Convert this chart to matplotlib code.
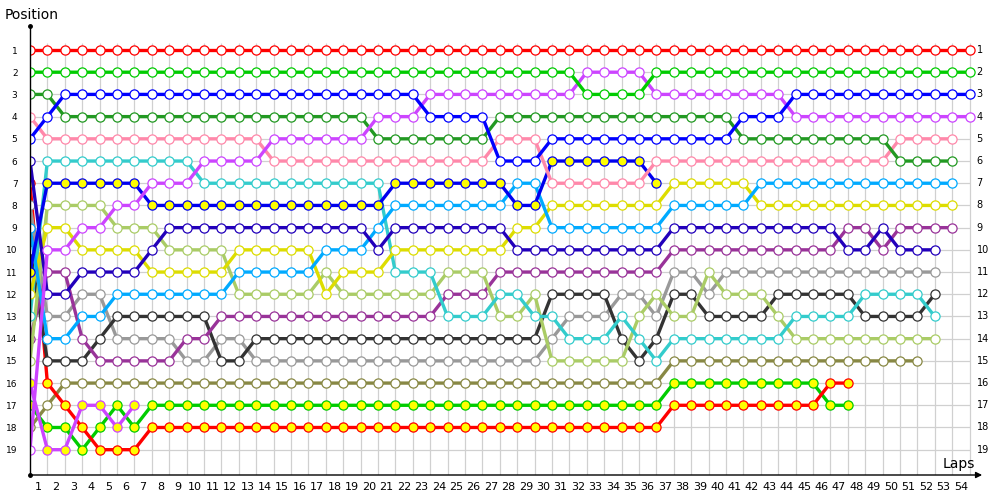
import matplotlib
matplotlib.use("Agg")
import matplotlib.pyplot as plt

plt.rcParams['font.family'] = ['DejaVu Sans']

laps = list(range(1, 55))
positions = list(range(1, 20))

# positions per lap, starting at lap 0
red = [1, 1, 1, 1, 1, 1, 1, 1, 1, 1, 1, 1, 1, 1, 1, 1, 1, 1, 1, 1,
       1, 1, 1, 1, 1, 1, 1, 1, 1, 1, 1, 1, 1, 1, 1, 1, 1, 1, 1, 1,
       1, 1, 1, 1, 1, 1, 1, 1, 1, 1, 1, 1, 1, 1, 1]
green = [2, 2, 2, 2, 2, 2, 2, 2, 2, 2, 2, 2, 2, 2, 2, 2, 2, 2, 2, 2,
         2, 2, 2, 2, 2, 2, 2, 2, 2, 2, 2, 2, 3, 3, 3, 3, 2, 2, 2, 2,
         2, 2, 2, 2, 2, 2, 2, 2, 2, 2, 2, 2, 2, 2, 2]
dkgreen = [3, 3, 4, 4, 4, 4, 4, 4, 4, 4, 4, 4, 4, 4, 4, 4, 4, 4, 4, 4,
           5, 5, 5, 5, 5, 5, 5, 4, 4, 4, 4, 4, 4, 4, 4, 4, 4, 4, 4, 4,
           4, 5, 5, 5, 5, 5, 5, 5, 5, 5, 6, 6, 6, 6]
pink = [4, 5, 5, 5, 5, 5, 5, 5, 5, 5, 5, 5, 5, 5, 6, 6, 6, 6, 6, 6,
        6, 6, 6, 6, 6, 6, 6, 5, 5, 5, 7, 7, 7, 7, 7, 7, 6, 6, 6, 6,
        6, 6, 6, 6, 6, 6, 6, 6, 6, 6, 5, 5, 5, 5]
blue = [5, 4, 3, 3, 3, 3, 3, 3, 3, 3, 3, 3, 3, 3, 3, 3, 3, 3, 3, 3,
        3, 3, 3, 4, 4, 4, 4, 6, 6, 6, 5, 5, 5, 5, 5, 5, 5, 5, 5, 5,
        5, 4, 4, 4, 3, 3, 3, 3, 3, 3, 3, 3, 3, 3, 3]
violet = [19, 10, 10, 9, 9, 8, 8, 7, 7, 7, 6, 6, 6, 6, 5, 5, 5, 5, 5, 5,
          4, 4, 4, 3, 3, 3, 3, 3, 3, 3, 3, 3, 2, 2, 2, 2, 3, 3, 3, 3,
          3, 3, 3, 3, 4, 4, 4, 4, 4, 4, 4, 4, 4, 4, 4]
navy = [6, 12, 12, 11, 11, 11, 11, 10, 9, 9, 9, 9, 9, 9, 9, 9, 9, 9, 9, 9,
        10, 9, 9, 9, 9, 9, 9, 9, 10, 10, 10, 10, 10, 10, 10, 10, 10, 9, 9, 9,
        9, 9, 9, 9, 9, 9, 9, 10, 10, 9, 10, 10, 10]
blueyellow = [11, 7, 7, 7, 7, 7, 7, 8, 8, 8, 8, 8, 8, 8, 8, 8, 8, 8, 8, 8,
              8, 7, 7, 7, 7, 7, 7, 7, 8, 8, 6, 6, 6, 6, 6, 6, 7]
cyan = [13, 6, 6, 6, 6, 6, 6, 6, 6, 6, 7, 7, 7, 7, 7, 7, 7, 7, 7, 7,
        7, 11, 11, 11, 13, 13, 13, 12, 12, 13, 13, 14, 14, 14, 13, 14, 15, 14, 14, 14,
        14, 14, 14, 14, 13, 13, 13, 13, 12, 12, 12, 12, 13]
lightblue = [9, 14, 14, 13, 13, 12, 12, 12, 12, 12, 12, 12, 11, 11, 11, 11, 11, 10, 10, 10,
             9, 8, 8, 8, 8, 8, 8, 8, 7, 7, 9, 9, 9, 9, 9, 9, 9, 8, 8, 8,
             8, 8, 7, 7, 7, 7, 7, 7, 7, 7, 7, 7, 7, 7]
yellow = [12, 9, 9, 10, 10, 10, 10, 11, 11, 11, 11, 11, 10, 10, 10, 10, 10, 12, 11, 11,
          11, 10, 10, 10, 10, 10, 10, 10, 9, 9, 8, 8, 8, 8, 8, 8, 8, 7, 7, 7,
          7, 7, 8, 8, 8, 8, 8, 8, 8, 8, 8, 8, 8, 8]
lightgreen = [15, 8, 8, 8, 8, 9, 9, 9, 10, 10, 10, 10, 12, 12, 12, 12, 12, 11, 12, 12,
              12, 12, 12, 12, 11, 11, 11, 13, 13, 12, 15, 15, 15, 15, 15, 13, 12, 13, 13, 11,
              12, 12, 12, 13, 14, 14, 14, 14, 14, 14, 14, 14, 14]
gray = [8, 13, 13, 12, 12, 14, 14, 14, 14, 15, 15, 14, 14, 15, 15, 15, 15, 15, 15, 15,
        15, 15, 15, 15, 15, 15, 15, 15, 15, 15, 14, 13, 13, 13, 12, 12, 13, 11, 11, 12,
        11, 11, 11, 11, 11, 11, 11, 11, 11, 11, 11, 11, 11]
black = [10, 15, 15, 15, 14, 13, 13, 13, 13, 13, 13, 15, 15, 14, 14, 14, 14, 14, 14, 14,
         14, 14, 14, 14, 14, 14, 14, 14, 14, 14, 12, 12, 12, 12, 14, 15, 14, 12, 12, 13,
         13, 13, 13, 12, 12, 12, 12, 12, 13, 13, 13, 13, 12]
purple = [14, 11, 11, 14, 15, 15, 15, 15, 15, 14, 14, 13, 13, 13, 13, 13, 13, 13, 13, 13,
          13, 13, 13, 13, 12, 12, 12, 11, 11, 11, 11, 11, 11, 11, 11, 11, 11, 10, 10, 10,
          10, 10, 10, 10, 10, 10, 10, 9, 9, 10, 9, 9, 9, 9]
olive = [18, 17, 16, 16, 16, 16, 16, 16, 16, 16, 16, 16, 16, 16, 16, 16, 16, 16, 16, 16,
         16, 16, 16, 16, 16, 16, 16, 16, 16, 16, 16, 16, 16, 16, 16, 16, 16, 15, 15, 15,
         15, 15, 15, 15, 15, 15, 15, 15, 15, 15, 15, 15]
redyellow = [7, 16, 17, 18, 19, 19, 19, 18, 18, 18, 18, 18, 18, 18, 18, 18, 18, 18, 18, 18,
             18, 18, 18, 18, 18, 18, 18, 18, 18, 18, 18, 18, 18, 18, 18, 18, 18, 17, 17, 17,
             17, 17, 17, 17, 17, 17, 16, 16]
greenyellow = [17, 18, 18, 19, 18, 17, 18, 17, 17, 17, 17, 17, 17, 17, 17, 17, 17, 17, 17, 17,
               17, 17, 17, 17, 17, 17, 17, 17, 17, 17, 17, 17, 17, 17, 17, 17, 17, 16, 16, 16,
               16, 16, 16, 16, 16, 16, 17, 17]
magentayellow = [16, 19, 19, 17, 17, 18, 17]

# (data, line colour, marker face colour)
series = [
    (olive, '#888844', 'white'),
    (greenyellow, '#00cc00', '#ffff00'),
    (redyellow, '#ff0000', '#ffff00'),
    (magentayellow, '#cc44ff', '#ffff00'),
    (gray, '#999999', 'white'),
    (black, '#333333', 'white'),
    (purple, '#993399', 'white'),
    (lightgreen, '#aacc66', 'white'),
    (cyan, '#33cccc', 'white'),
    (yellow, '#dddd00', 'white'),
    (lightblue, '#00aaff', 'white'),
    (navy, '#2200bb', 'white'),
    (blueyellow, '#0000ee', '#ffff00'),
    (pink, '#ff88aa', 'white'),
    (dkgreen, '#229922', 'white'),
    (violet, '#cc44ff', 'white'),
    (blue, '#0000ff', 'white'),
    (green, '#00cc00', 'white'),
    (red, '#ff0000', 'white'),
]

fig = plt.figure(figsize=(10, 5), dpi=100)
ax = fig.add_axes([0.03, 0.05, 0.955, 0.90])
ax.set_xlim(0, 54.89)
ax.set_ylim(20.14, -0.126)
for s in ax.spines.values():
    s.set_visible(False)

# grid
ax.vlines(laps, 0.7, 20.14, colors='#d0d0d0', linewidth=0.9, zorder=1)
ax.hlines(positions, 0, 54, colors='#d0d0d0', linewidth=0.9, zorder=1)

for i, (data, col, face) in enumerate(series):
    ax.plot(range(len(data)), data, color=col, linewidth=2.4, marker='o',
            markersize=6.6, markerfacecolor=face, markeredgecolor=col,
            markeredgewidth=0.9, zorder=3 + i * 0.01, solid_capstyle='round')

# axes lines
ax.plot([0, 0], [20.14, -0.05], color='black', linewidth=1, zorder=5, clip_on=False)
ax.plot([0], [-0.1], marker='o', markersize=2.5, color='black', clip_on=False, zorder=6)
ax.plot([0], [20.14], marker='o', markersize=2.5, color='black', clip_on=False, zorder=6)
ax.annotate('', xy=(0.997, 0), xycoords='axes fraction', xytext=(0, 0),
            textcoords='axes fraction',
            arrowprops=dict(arrowstyle='-|>', color='black', lw=1,
                            mutation_scale=9, shrinkA=0, shrinkB=0))

ax.set_xticks([k - 0.5 for k in laps])
ax.set_xticklabels([str(k) for k in laps])
ax.tick_params(axis='x', length=0, pad=5, labelsize=8)
ax.set_yticks(positions)
ax.set_yticklabels([str(p) for p in positions])
ax.tick_params(axis='y', length=0, pad=9, labelsize=6.5)

for p in positions:
    ax.text(54.4, p, str(p), ha='left', va='center', fontsize=7, clip_on=False)

fig.text(0.005, 0.97, 'Position', ha='left', va='center', fontsize=10)
fig.text(0.959, 0.072, 'Laps', ha='center', va='center', fontsize=10)

fig.savefig('out.png', dpi=100)
